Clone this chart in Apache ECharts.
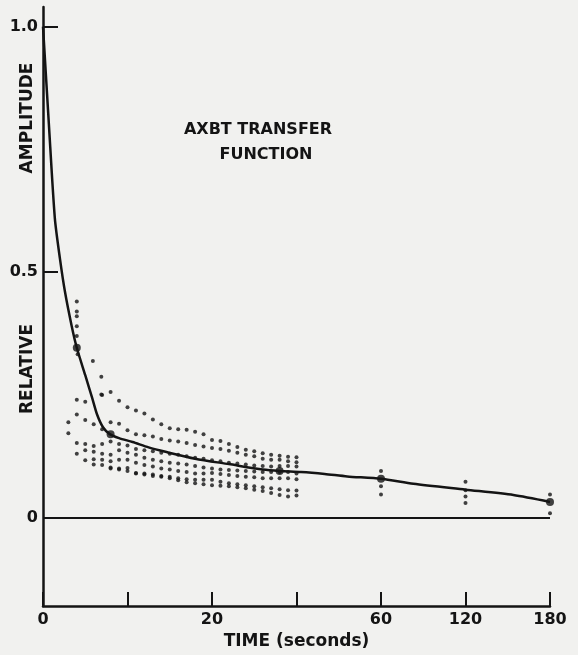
<!DOCTYPE html>
<html>
<head>
<meta charset="utf-8">
<script src="https://cdn.jsdelivr.net/npm/echarts@6/dist/echarts.min.js"></script>
<style>
html,body{margin:0;padding:0;background:#f1f1ef;}
#chart{width:578px;height:655px;}
</style>
</head>
<body>
<div id="chart"></div>
<script>
// ---- axis definitions ----
const xTickSeconds = [0, 10, 20, 30, 60, 120, 180];
const xTickLabels = ['0', '', '20', '', '60', '120', '180'];
const yTickValues = [0, 0.5, 1.0];
const yTickLabels = ['0', '0.5', '1.0'];

// ---- fitted transfer curve (time s, relative amplitude) ----
const curveT = [0, 0.7, 1.4, 2.0, 2.6, 3.4, 4.0, 5.0, 5.8, 6.4, 7.1, 7.9, 9, 10.6, 12.5, 14.5, 18, 22, 26, 28, 31.6, 40, 48, 60, 83, 120, 154, 180];
const curveA = [1.0, 0.80, 0.61, 0.528, 0.46, 0.39, 0.346, 0.29, 0.245, 0.21, 0.184, 0.17, 0.162, 0.154, 0.143, 0.134, 0.12, 0.109, 0.098, 0.095, 0.093, 0.089, 0.084, 0.079, 0.069, 0.057, 0.046, 0.032];

// ---- large markers on the curve ----
const bigT = [4, 8, 28, 60, 180];
const bigA = [0.346, 0.17, 0.095, 0.079, 0.032];

// ---- individual drop runs, sampled each second from 3 to 30 s ----
const runTimes = [3,4,5,6,7,8,9,10,11,12,13,14,15,16,17,18,19,20,21,22,23,24,25,26,27,28,29,30];
const run1 = [null,.240,.236,null,.250,.256,.238,.225,.218,.212,.200,.190,.182,.180,.179,.175,.170,.158,.156,.150,.144,.138,.135,.131,.128,.126,.124,.123];
const run2 = [.194,.210,.199,.190,.180,.194,.191,.178,.170,.168,.165,.160,.157,.155,.152,.148,.145,.142,.140,.136,.132,.128,.125,.120,.118,.118,.115,.113];
const run3 = [.172,.152,.150,.146,.150,.155,.150,.147,.140,.137,.135,.132,.130,.128,.125,.122,.120,.117,.115,.112,.110,.108,.106,.105,.104,.105,.105,.104];
const run4 = [null,.130,.137,.134,.130,.128,.137,.132,.128,.122,.118,.115,.112,.110,.108,.105,.102,.100,.098,.097,.096,.095,.094,.093,.093,.093,.093,.090];
const run5 = [null,null,.117,.119,.118,.115,.118,.118,.112,.107,.104,.100,.098,.095,.093,.090,.090,.091,.089,.087,.085,.083,.082,.080,.080,.080,.080,.078];
const run6 = [null,null,null,.108,.107,.102,.100,.101,.091,.090,.088,.085,.083,.080,.078,.077,.077,.077,.073,.070,.068,.066,.064,.062,.060,.058,.056,.055];
const run7 = [null,null,null,null,null,.100,.098,.095,.090,.088,.085,.083,.080,.076,.072,.070,.068,.066,.065,.064,.062,.060,.057,.054,.050,.046,.043,.045];

// ---- extra scattered points (early drop and long-time samples) ----
const extraT = [4, 4, 4, 4, 4, 4.1, 5.9, 6.9, 6.9, 60, 60, 60, 120, 120, 120, 120, 180, 180];
const extraA = [0.44, 0.42, 0.41, 0.39, 0.37, 0.333, 0.319, 0.287, 0.251, 0.095, 0.064, 0.047, 0.073, 0.056, 0.043, 0.030, 0.047, 0.009];

// piecewise time scale: each tick interval is one axis unit
function timeToPos(t) {
  for (let i = 0; i < xTickSeconds.length - 1; i++) {
    const a = xTickSeconds[i], b = xTickSeconds[i + 1];
    if (t <= b) return i + (t - a) / (b - a);
  }
  return xTickSeconds.length - 1;
}

const INK = '#141414';
const FONT = 'DejaVu Sans';

const runs = [run1, run2, run3, run4, run5, run6, run7];
const dotData = [];
runs.forEach(r => r.forEach((v, i) => { if (v !== null) dotData.push([timeToPos(runTimes[i]), v]); }));
extraT.forEach((t, i) => dotData.push([timeToPos(t), extraA[i]]));

const chart = echarts.init(document.getElementById('chart'), null, {renderer: 'canvas'});
chart.setOption({
  backgroundColor: '#f1f1ef',
  animation: false,
  grid: {left: 43, right: 28, top: 7, bottom: 45, containLabel: false},
  xAxis: {
    type: 'value', min: 0, max: 6, interval: 1,
    axisLine: {show: true, onZero: false, lineStyle: {color: INK, width: 2.5}},
    axisTick: {show: true, inside: true, length: 14, lineStyle: {color: INK, width: 2}},
    axisLabel: {
      color: INK, fontFamily: FONT, fontSize: 16, fontWeight: 'bold', margin: 6,
      formatter: v => xTickLabels[Math.round(v)] || ''
    },
    splitLine: {show: false},
    name: 'TIME (seconds)', nameLocation: 'middle', nameGap: 27,
    nameTextStyle: {color: INK, fontFamily: FONT, fontSize: 17, fontWeight: 'bold'}
  },
  yAxis: {
    type: 'value', min: -0.18, max: 1.04,
    axisLine: {show: true, onZero: false, lineStyle: {color: INK, width: 2.5}},
    axisTick: {show: true, inside: true, length: 15, customValues: [0.5, 1.0], lineStyle: {color: INK, width: 2}},
    axisLabel: {
      color: INK, fontFamily: FONT, fontSize: 16, fontWeight: 'bold', margin: 5, customValues: yTickValues,
      formatter: v => yTickLabels[yTickValues.indexOf(v)] ?? ''
    },
    splitLine: {show: false}
  },
  graphic: [
    {type: 'text', x: 28, y: 118, rotation: Math.PI / 2,
      style: {text: 'AMPLITUDE', fill: INK, font: 'bold 17px "DejaVu Sans"', textAlign: 'center', textVerticalAlign: 'middle'}},
    {type: 'text', x: 28, y: 369, rotation: Math.PI / 2,
      style: {text: 'RELATIVE', fill: INK, font: 'bold 17px "DejaVu Sans"', textAlign: 'center', textVerticalAlign: 'middle'}},
    {type: 'text', x: 258, y: 130,
      style: {text: 'AXBT TRANSFER', fill: INK, font: 'bold 16px "DejaVu Sans"', textAlign: 'center', textVerticalAlign: 'middle'}},
    {type: 'text', x: 266, y: 155,
      style: {text: 'FUNCTION', fill: INK, font: 'bold 16px "DejaVu Sans"', textAlign: 'center', textVerticalAlign: 'middle'}}
  ],
  series: [
    {
      type: 'line', data: curveT.map((t, i) => [timeToPos(t), curveA[i]]),
      smooth: 0.25, showSymbol: false, lineStyle: {color: INK, width: 2.5}, z: 3,
      markLine: {
        silent: true, symbol: 'none', label: {show: false},
        lineStyle: {color: INK, width: 2, type: 'solid'},
        data: [{yAxis: 0}]
      }
    },
    {
      type: 'scatter', data: dotData, symbol: 'circle', symbolSize: 4,
      itemStyle: {color: INK}, z: 2
    },
    {
      type: 'scatter', data: bigT.map((t, i) => [timeToPos(t), bigA[i]]), symbol: 'circle', symbolSize: 8,
      itemStyle: {color: INK}, z: 4
    }
  ]
});
</script>
</body>
</html>
